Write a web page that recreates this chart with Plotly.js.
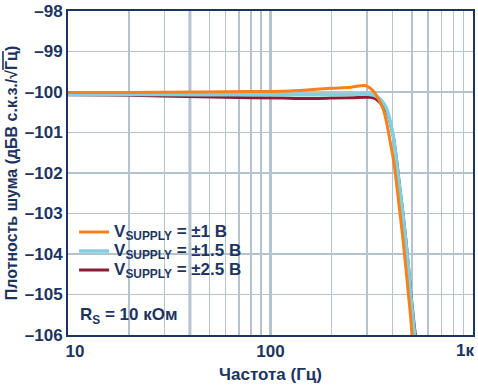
<!DOCTYPE html>
<html>
<head>
<meta charset="utf-8">
<script src="https://cdn.plot.ly/plotly-3.0.1.min.js"></script>
<style>html,body{margin:0;padding:0;background:#fff;}</style>
</head>
<body>
<div id="chart" style="width:478px;height:390px;"></div>
<script>
// Frequency (Hz)
const freq = [10, 20, 45, 80, 115, 140, 200, 250, 293, 310, 328, 347, 361, 375, 389, 404, 420, 436, 450, 465, 480, 492, 500, 515, 521, 540];
// Noise density (dBV rms/√Hz)
const vs1 = [-100.01, -100.01, -100.00, -99.99, -99.98, -99.96, -99.91, -99.88, -99.84, -99.90, -100.03, -100.24, -100.44, -100.77, -101.2, -101.65, -102.3, -103.0, -103.6, -104.3, -105.0, -105.55, -106.0, -106.7, -107.0, -107.8];
const vs15 = [-100.06, -100.06, -100.07, -100.07, -100.07, -100.07, -100.07, -100.06, -100.05, -100.06, -100.09, -100.17, -100.27, -100.42, -100.7, -101.1, -101.75, -102.45, -103.0, -103.65, -104.35, -105.0, -105.35, -106.0, -106.25, -107.0];
const vs25 = [-100.07, -100.08, -100.12, -100.14, -100.15, -100.16, -100.15, -100.14, -100.13, -100.13, -100.16, -100.26, -100.36, -100.48, -100.73, -101.1, -101.7, -102.4, -102.95, -103.6, -104.3, -104.9, -105.25, -105.85, -106.05, -106.8];

const seriesNames = ["V<sub>SUPPLY</sub> = ±1 В", "V<sub>SUPPLY</sub> = ±1.5 В", "V<sub>SUPPLY</sub> = ±2.5 В"];
const xTickVals = [10, 100];
const xTickText = ["\u00a0\u00a0\u00a010", "100"];
const xMinorVals = [20,30,40,50,60,70,80,90,200,300,400,500,600,700,800,900];
const lastXTick = {value: 1000, label: "1к"};
const yTickVals = [-98,-99,-100,-101,-102,-103,-104,-105,-106];
const yTickText = ["–98","–99","–100","–101","–102","–103","–104","–105","–106"];
const emphasisGrid = [40, 100];

const navy = "#1d3461";
const gridc = "#b5c3cf";
const fontFam = "Liberation Sans, Arial, sans-serif";
const big = s => '<span style="font-size:17px">' + s + '</span>';

const traces = [
  {x: freq, y: vs25, name: big(seriesNames[2]), mode: "lines", line: {color: "#8e1b33", width: 3, shape: "spline"}},
  {x: freq, y: vs15, name: big(seriesNames[1]), mode: "lines", line: {color: "#7ad2e2", width: 3.5, shape: "spline"}},
  {x: freq, y: vs1, name: big(seriesNames[0]), mode: "lines", line: {color: "#f5821f", width: 3, shape: "spline"}}
];

const shapes = emphasisGrid.map(v => ({
  type: "line", xref: "x", yref: "paper", x0: v, x1: v, y0: 0, y1: 1,
  line: {color: gridc, width: 3}, layer: "below"
}));

const layout = {
  width: 478, height: 390,
  margin: {l: 68, r: 5, t: 11, b: 55},
  paper_bgcolor: "#fff", plot_bgcolor: "#fff",
  font: {family: fontFam, size: 17, color: navy, weight: "bold"},
  showlegend: true,
  legend: {
    x: 0.015, y: 0.363, xanchor: "left", yanchor: "top",
    traceorder: "reversed", bgcolor: "rgba(0,0,0,0)",
    font: {family: fontFam, size: 12, color: navy, weight: "bold"},
    itemwidth: 30
  },
  xaxis: {
    type: "log", range: [1, 3],
    tickmode: "array", tickvals: xTickVals, ticktext: xTickText,
    ticklabeloverflow: "allow",
    showgrid: true, gridcolor: gridc, gridwidth: 1.5,
    minor: {tickmode: "array", tickvals: xMinorVals, showgrid: true, gridcolor: gridc, gridwidth: 1.5, ticks: ""},
    showline: true, linecolor: navy, linewidth: 2, mirror: true,
    ticks: "", zeroline: false,
    tickfont: {family: fontFam, size: 17, color: navy, weight: "bold"},
    title: {text: "Частота (Гц)", standoff: 8, font: {family: fontFam, size: 17, color: navy, weight: "bold"}},
    automargin: false
  },
  yaxis: {
    range: [-106, -98],
    tickmode: "array", tickvals: yTickVals, ticktext: yTickText,
    showgrid: true, gridcolor: gridc, gridwidth: 1.5,
    showline: true, linecolor: navy, linewidth: 2, mirror: true,
    ticks: "", zeroline: false,
    tickfont: {family: fontFam, size: 17, color: navy, weight: "bold"},
    title: {text: "Плотность шума (дБВ с.к.з./√<span style=\"text-decoration:overline\">Гц</span>)", standoff: 3, font: {family: fontFam, size: 16, color: navy, weight: "bold"}},
    automargin: false
  },
  shapes: shapes,
  annotations: [
    {
      xref: "paper", yref: "paper", x: 0.025, y: 0.058, xanchor: "left", yanchor: "middle",
      text: "R<sub>S</sub> = 10 кОм", showarrow: false,
      font: {family: fontFam, size: 17, color: navy, weight: "bold"}
    },
    {
      xref: "x", yref: "paper", x: Math.log10(lastXTick.value), y: 0, xanchor: "right", yanchor: "middle",
      xshift: 3, yshift: -15,
      text: lastXTick.label, showarrow: false,
      font: {family: fontFam, size: 17, color: navy, weight: "bold"}
    }
  ]
};

Plotly.newPlot("chart", traces, layout, {displayModeBar: false, staticPlot: true});
</script>
</body>
</html>
